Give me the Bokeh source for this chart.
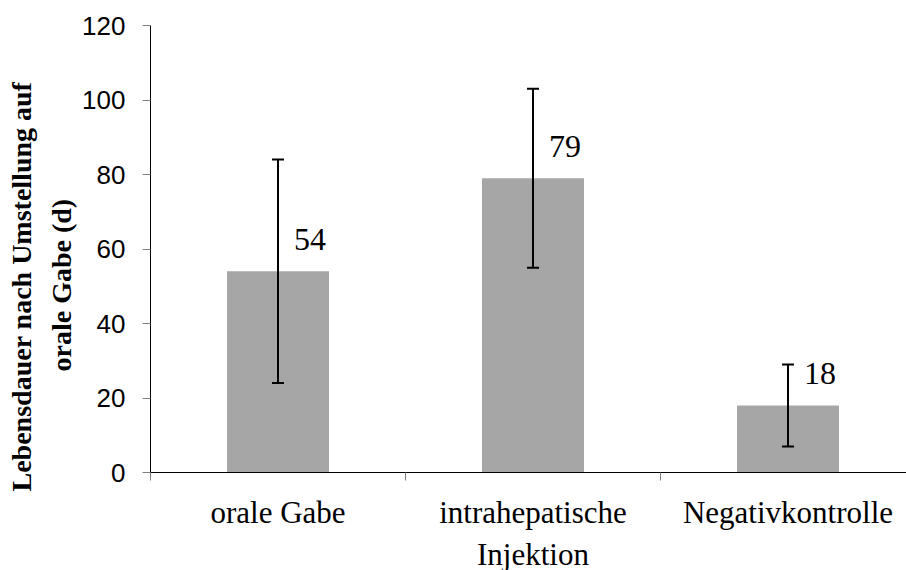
import math
from bokeh.plotting import figure
from bokeh.models import (ColumnDataSource, Range1d, FixedTicker, Whisker, TeeHead,
                          LabelSet, Title)
from bokeh.embed import file_html
from bokeh.resources import INLINE

categories = ["orale Gabe", "intrahepatische\nInjektion", "Negativkontrolle"]
values = [54, 79, 18]
errors = [30, 24, 11]
y_ticks = [0, 20, 40, 60, 80, 100, 120]
y_title_lines = ["Lebensdauer nach Umstellung auf", "orale Gabe (d)"]

n = len(categories)
xs = [i + 0.5 for i in range(n)]
src = ColumnDataSource(dict(
    x=xs, top=values,
    upper=[v + e for v, e in zip(values, errors)],
    lower=[v - e for v, e in zip(values, errors)],
    lbl=[str(v) for v in values],
))

FRAME_W, FRAME_H, LEFT, TOP = 756, 447, 150, 25
cat_px = 255.0

p = figure(frame_width=FRAME_W, frame_height=FRAME_H, output_backend="svg",
           toolbar_location=None, x_range=Range1d(0, FRAME_W / cat_px),
           y_range=Range1d(0, 120), min_border_left=LEFT, min_border_right=0,
           min_border_top=TOP, min_border_bottom=10)
p.outline_line_color = None
p.xgrid.visible = False
p.ygrid.visible = False
p.background_fill_color = "white"
p.border_fill_color = "white"

p.vbar(x="x", top="top", width=0.4, bottom=0, source=src,
       fill_color="#A6A6A6", line_color=None)

w = Whisker(base="x", upper="upper", lower="lower", source=src,
            line_color="black", line_width=2, level="annotation",
            upper_head=TeeHead(size=12, line_color="black", line_width=2),
            lower_head=TeeHead(size=12, line_color="black", line_width=2))
p.add_layout(w)

labels = LabelSet(x="x", y="top", text="lbl", source=src, x_offset=16, y_offset=21,
                  text_font="Liberation Serif", text_font_size="32px",
                  text_color="black", text_baseline="alphabetic", text_align="left")
p.add_layout(labels)

# y axis
ya = p.yaxis[0]
ya.ticker = FixedTicker(ticks=y_ticks)
ya.axis_line_color = "black"
ya.axis_line_width = 1
ya.major_tick_line_color = "#808080"
ya.major_tick_out = 8
ya.major_tick_in = 0
ya.minor_tick_line_color = None
ya.major_label_text_font = "Liberation Sans"
ya.major_label_text_font_size = "26px"
ya.major_label_text_color = "black"
ya.major_label_standoff = 17

# x axis
xa = p.xaxis[0]
xa.ticker = FixedTicker(ticks=xs, minor_ticks=[float(i) for i in range(n + 1)])
xa.major_label_overrides = {x: c for x, c in zip(xs, categories)}
xa.axis_line_color = "black"
xa.axis_line_width = 1
xa.major_tick_line_color = None
xa.minor_tick_line_color = "#808080"
xa.minor_tick_out = 8
xa.minor_tick_in = 0
xa.major_label_text_font = "Liberation Serif"
xa.major_label_text_font_size = "31px"
xa.major_label_text_color = "black"
xa.major_label_standoff = 14

# y axis title, two lines sharing one centre (line closest to the axis first)
title_offsets = [-19, 101]   # pixels from the frame's bottom, per line of y_title_lines
title_standoffs = [7, 6]
for line, off, so in reversed(list(zip(y_title_lines, title_offsets, title_standoffs))):
    p.add_layout(Title(text=line, align="left", offset=off,
                       text_font="Liberation Serif", text_font_style="bold",
                       text_font_size="28px", text_color="black",
                       standoff=so), "left")

open("out.html", "w").write(file_html(p, INLINE))
